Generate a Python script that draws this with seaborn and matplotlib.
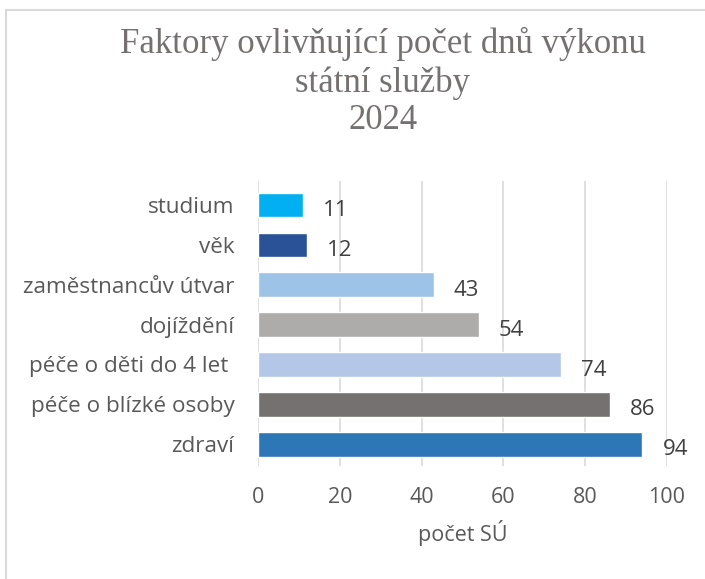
import matplotlib
matplotlib.use("Agg")
import matplotlib.pyplot as plt
import seaborn as sns
import pandas as pd
from matplotlib.lines import Line2D

# data
factors = ["studium", "věk", "zaměstnancův útvar", "dojíždění",
           "péče o děti do 4 let ", "péče o blízké osoby", "zdraví"]
counts = [11, 12, 43, 54, 74, 86, 94]
colors = ["#00B0F0", "#2A5296", "#9DC3E6", "#AEABAB",
          "#B4C7E7", "#767171", "#2E77B7"]

df = pd.DataFrame({"Faktor": factors, "Počet": counts})

sns.set_style("white")
plt.rcParams['font.family'] = ['Open Sans', 'DejaVu Sans']

fig = plt.figure(figsize=(7.05, 5.79), dpi=100)
ax = fig.add_axes([0.366, 0.195, 0.58, 0.492])

sns.barplot(data=df, y="Faktor", x="Počet", hue="Faktor", palette=colors,
            order=factors, hue_order=factors, legend=False, width=0.62,
            saturation=1, orient="h", ax=ax)

ax.set_xlim(0, 100)
ax.set_xticks([0, 20, 40, 60, 80, 100])
ax.set_ylim(len(factors) - 0.5 + 0.05, -0.5 - 0.1)
ax.xaxis.grid(True, color="#D9D9D9", linewidth=1.2)
ax.set_axisbelow(True)
for s in ax.spines.values():
    s.set_visible(False)
ax.tick_params(axis="both", length=0)
ax.tick_params(axis="x", labelsize=15.5, labelcolor="#595959", pad=15)
ax.tick_params(axis="y", labelsize=16.2, labelcolor="#595959", pad=17)
ax.set_ylabel("")
ax.set_xlabel("počet SÚ", fontsize=15.5, color="#595959", labelpad=9)

# value labels, slightly right and below the bar end
for i, v in enumerate(counts):
    ax.annotate(str(v), xy=(v, i), xytext=(14.5, -4), textcoords="offset points",
                fontsize=16, color="#404040", va="center", ha="left")

fig.text(0.543, 0.858, "Faktory ovlivňující počet dnů výkonu\nstátní služby\n2024",
         ha="center", va="center", fontsize=25, color="#757171",
         family="Liberation Serif", linespacing=1.18)

# chart frame (only top and left edges visible)
fig.add_artist(Line2D([0.009, 1.0], [0.982, 0.982], color="#D9D9D9", lw=1.5,
                      transform=fig.transFigure))
fig.add_artist(Line2D([0.009, 0.009], [0.0, 0.982], color="#D9D9D9", lw=1.5,
                      transform=fig.transFigure))

fig.savefig("out.png", dpi=100)
